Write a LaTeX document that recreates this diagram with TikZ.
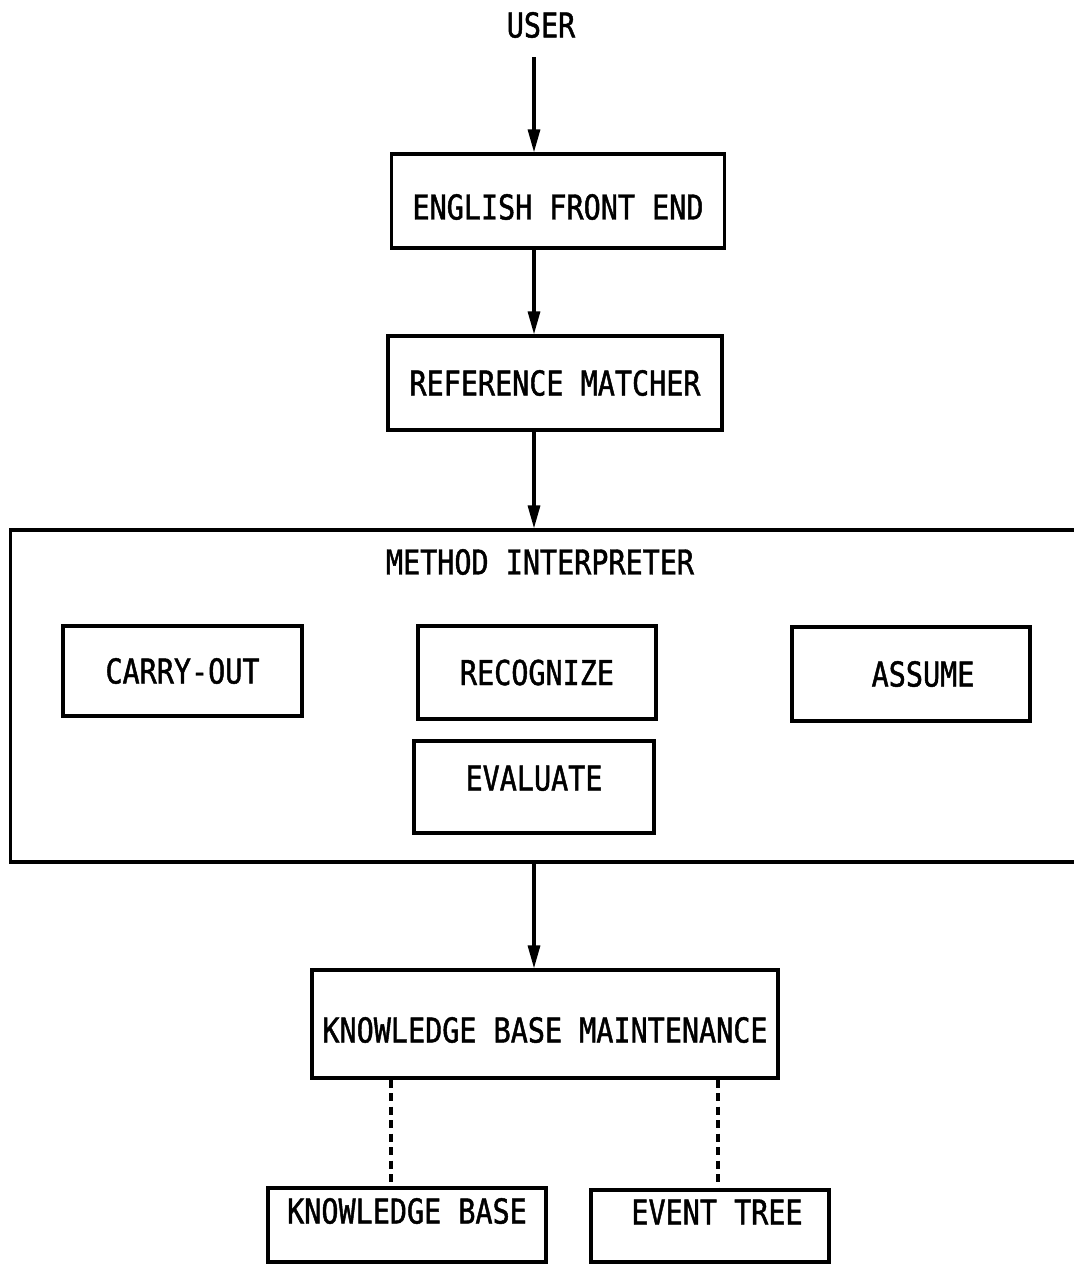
\documentclass[tikz,border=0pt]{standalone}
\usepackage{fontspec}
\setmainfont{DejaVu Sans Mono}[FakeStretch=0.83, FakeBold=1.3]
\usepackage{tikz}
\usetikzlibrary{positioning, arrows.meta}
\newcommand{\plotfont}{\fontsize{19.5pt}{23pt}\selectfont}

\begin{document}
\begin{tikzpicture}
        [
        x=0.02cm, y=-0.02cm,
        every node/.style = {font=\plotfont},
        blk/.style = {draw, line width=1.8pt, text height=0.5cm, text depth=0cm, inner sep=0pt},
        flow/.style = {-{Triangle[length=0.46cm, width=0.24cm]}, line width=1.8pt},
        link/.style = {line width=2pt, dash pattern=on 0.16cm off 0.11cm}
        ]
    \useasboundingbox (0,0) rectangle (1074,1264);
    \clip (0,0) rectangle (1074,1264);
    \coordinate (spine) at (534,0);

    \node[] (user) at (541,25) {USER};
    \node[blk, minimum width=6.66cm, minimum height=1.88cm, text height=0.74cm] (efe) at (558,201) {ENGLISH FRONT END};
    \node[blk, minimum width=6.68cm, minimum height=1.88cm] (rm) at (555,383) {REFERENCE MATCHER};

    % method interpreter frame runs off the right edge
    \node[blk, minimum width=21.6cm, minimum height=6.64cm] (mi) at (550,696) {};
    \node[] (mititle) at (540,562) {METHOD INTERPRETER};
    \node[blk, minimum width=4.78cm, minimum height=1.8cm] (co) at (182.5,671) {CARRY-OUT\hspace{0.76cm}};
    \node[blk, minimum width=4.76cm, minimum height=1.86cm] (rec) at (537,672.5) {RECOGNIZE};
    \node[blk, minimum width=4.76cm, minimum height=1.88cm] (asm) at (911,674) {\hspace{0.48cm}ASSUME};
    \node[blk, minimum width=4.8cm, minimum height=1.84cm, text depth=0.36cm] (ev) at (534,787) {EVALUATE\hspace{0.4cm}};

    \node[blk, minimum width=9.32cm, minimum height=2.16cm, text height=0.74cm] (kbm) at (545,1024) {KNOWLEDGE BASE MAINTENANCE};
    \node[blk, minimum width=5.56cm, minimum height=1.48cm, text depth=0.56cm] (kb) at (407,1225) {KNOWLEDGE BASE};
    \node[blk, minimum width=4.76cm, minimum height=1.44cm, text depth=0.56cm] (et) at (710,1226) {\hspace{0.28cm}EVENT TREE};

    \draw[flow, shorten <=0.26cm] (spine |- user.south) -- (spine |- efe.north);
    \draw[flow] (spine |- efe.south) -- (spine |- rm.north);
    \draw[flow] (spine |- rm.south) -- (spine |- mi.north);
    \draw[flow] (spine |- mi.south) -- (spine |- kbm.north);
    \draw[link] ([xshift=-0.32cm]kb.north |- kbm.south) -- ([xshift=-0.32cm]kb.north);
    \draw[link] ([xshift=0.16cm]et.north |- kbm.south) -- ([xshift=0.16cm]et.north);
\end{tikzpicture}
\end{document}
